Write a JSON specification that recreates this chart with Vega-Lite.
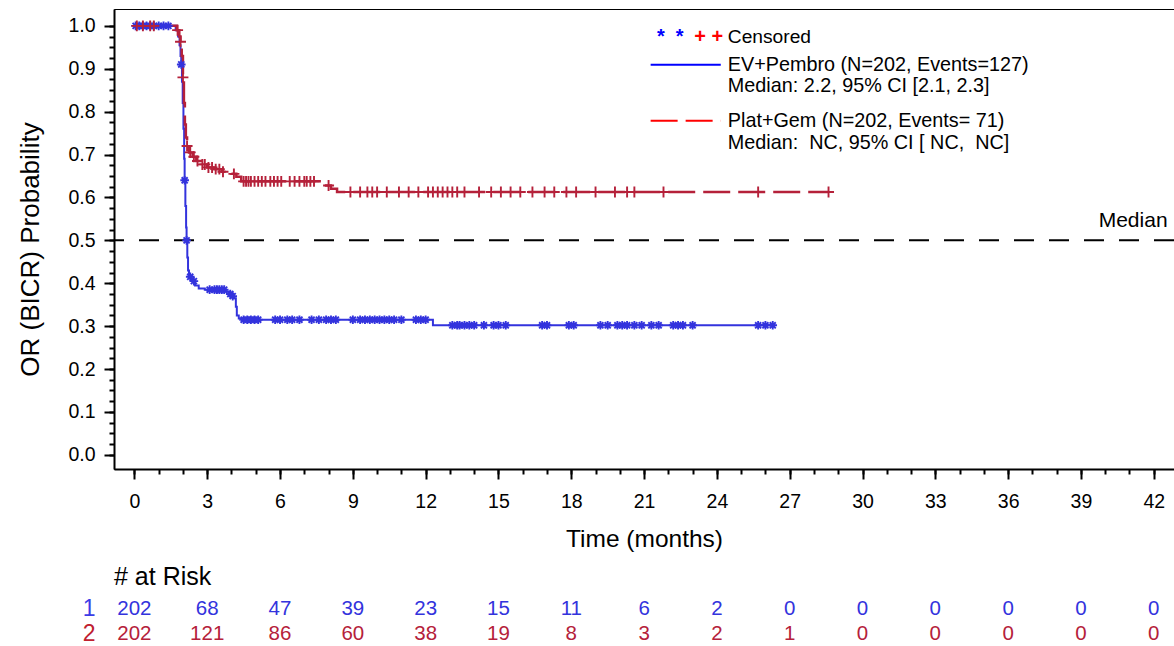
{
  "$schema": "https://vega.github.io/schema/vega-lite/v6.json",
  "padding": {"left": 17, "top": 8, "right": 0, "bottom": 0},
  "bounds": "flush",
  "spacing": 127,
  "config": {
    "font": "Liberation Sans",
    "axis": {"grid": false, "domainColor": "black", "tickColor": "black", "labelColor": "black", "titleColor": "black", "titleFontWeight": "normal", "labelFlush": false, "labelOverlap": false}
  },
  "datasets": {
    "one": [{}],
    "km": [
      {"group": "EV+Pembro", "t": 0, "s": 1}, {"group": "EV+Pembro", "t": 1.7, "s": 0.99}, {"group": "EV+Pembro", "t": 1.8, "s": 0.975}, {"group": "EV+Pembro", "t": 1.86, "s": 0.955}, {"group": "EV+Pembro", "t": 1.9, "s": 0.93}, {"group": "EV+Pembro", "t": 1.93, "s": 0.91}, {"group": "EV+Pembro", "t": 1.96, "s": 0.87}, {"group": "EV+Pembro", "t": 1.99, "s": 0.82}, {"group": "EV+Pembro", "t": 2.02, "s": 0.76}, {"group": "EV+Pembro", "t": 2.05, "s": 0.69}, {"group": "EV+Pembro", "t": 2.07, "s": 0.64}, {"group": "EV+Pembro", "t": 2.1, "s": 0.58}, {"group": "EV+Pembro", "t": 2.13, "s": 0.53}, {"group": "EV+Pembro", "t": 2.15, "s": 0.5}, {"group": "EV+Pembro", "t": 2.18, "s": 0.46}, {"group": "EV+Pembro", "t": 2.21, "s": 0.43}, {"group": "EV+Pembro", "t": 2.25, "s": 0.415}, {"group": "EV+Pembro", "t": 2.35, "s": 0.405}, {"group": "EV+Pembro", "t": 2.5, "s": 0.395}, {"group": "EV+Pembro", "t": 2.65, "s": 0.388}, {"group": "EV+Pembro", "t": 2.9, "s": 0.385}, {"group": "EV+Pembro", "t": 3.75, "s": 0.38}, {"group": "EV+Pembro", "t": 3.9, "s": 0.375}, {"group": "EV+Pembro", "t": 4.0, "s": 0.37}, {"group": "EV+Pembro", "t": 4.1, "s": 0.365}, {"group": "EV+Pembro", "t": 4.18, "s": 0.345}, {"group": "EV+Pembro", "t": 4.22, "s": 0.325}, {"group": "EV+Pembro", "t": 4.3, "s": 0.318}, {"group": "EV+Pembro", "t": 4.45, "s": 0.315}, {"group": "EV+Pembro", "t": 12.3, "s": 0.302}, {"group": "EV+Pembro", "t": 26.3, "s": 0.302},
      {"group": "Plat+Gem", "t": 0, "s": 1}, {"group": "Plat+Gem", "t": 1.75, "s": 0.99}, {"group": "Plat+Gem", "t": 1.85, "s": 0.975}, {"group": "Plat+Gem", "t": 1.9, "s": 0.963}, {"group": "Plat+Gem", "t": 1.95, "s": 0.93}, {"group": "Plat+Gem", "t": 2.0, "s": 0.88}, {"group": "Plat+Gem", "t": 2.04, "s": 0.82}, {"group": "Plat+Gem", "t": 2.08, "s": 0.77}, {"group": "Plat+Gem", "t": 2.12, "s": 0.74}, {"group": "Plat+Gem", "t": 2.17, "s": 0.72}, {"group": "Plat+Gem", "t": 2.25, "s": 0.705}, {"group": "Plat+Gem", "t": 2.4, "s": 0.695}, {"group": "Plat+Gem", "t": 2.55, "s": 0.685}, {"group": "Plat+Gem", "t": 2.75, "s": 0.677}, {"group": "Plat+Gem", "t": 3.0, "s": 0.67}, {"group": "Plat+Gem", "t": 3.3, "s": 0.666}, {"group": "Plat+Gem", "t": 3.6, "s": 0.66}, {"group": "Plat+Gem", "t": 4.0, "s": 0.655}, {"group": "Plat+Gem", "t": 4.2, "s": 0.648}, {"group": "Plat+Gem", "t": 4.4, "s": 0.6375}, {"group": "Plat+Gem", "t": 7.75, "s": 0.628}, {"group": "Plat+Gem", "t": 8.1, "s": 0.62}, {"group": "Plat+Gem", "t": 8.35, "s": 0.6126}, {"group": "Plat+Gem", "t": 28.6, "s": 0.6126}
    ],
    "cens": [
      {"group": "EV+Pembro", "t": 0.05, "s": 1}, {"group": "EV+Pembro", "t": 0.2, "s": 1}, {"group": "EV+Pembro", "t": 0.35, "s": 1}, {"group": "EV+Pembro", "t": 0.5, "s": 1}, {"group": "EV+Pembro", "t": 0.65, "s": 1}, {"group": "EV+Pembro", "t": 0.8, "s": 1}, {"group": "EV+Pembro", "t": 1.0, "s": 1}, {"group": "EV+Pembro", "t": 1.2, "s": 1}, {"group": "EV+Pembro", "t": 1.4, "s": 1},
      {"group": "EV+Pembro", "t": 1.93, "s": 0.91}, {"group": "EV+Pembro", "t": 2.07, "s": 0.64}, {"group": "EV+Pembro", "t": 2.15, "s": 0.5}, {"group": "EV+Pembro", "t": 2.3, "s": 0.415}, {"group": "EV+Pembro", "t": 2.45, "s": 0.405},
      {"group": "EV+Pembro", "t": 3.1, "s": 0.385}, {"group": "EV+Pembro", "t": 3.3, "s": 0.385}, {"group": "EV+Pembro", "t": 3.4, "s": 0.385}, {"group": "EV+Pembro", "t": 3.5, "s": 0.385}, {"group": "EV+Pembro", "t": 3.6, "s": 0.385}, {"group": "EV+Pembro", "t": 3.7, "s": 0.385}, {"group": "EV+Pembro", "t": 3.95, "s": 0.375}, {"group": "EV+Pembro", "t": 4.05, "s": 0.37},
      {"group": "EV+Pembro", "t": 4.5, "s": 0.315}, {"group": "EV+Pembro", "t": 4.65, "s": 0.315}, {"group": "EV+Pembro", "t": 4.8, "s": 0.315}, {"group": "EV+Pembro", "t": 4.95, "s": 0.315}, {"group": "EV+Pembro", "t": 5.1, "s": 0.315}, {"group": "EV+Pembro", "t": 5.8, "s": 0.315}, {"group": "EV+Pembro", "t": 6.0, "s": 0.315}, {"group": "EV+Pembro", "t": 6.3, "s": 0.315}, {"group": "EV+Pembro", "t": 6.5, "s": 0.315}, {"group": "EV+Pembro", "t": 6.8, "s": 0.315}, {"group": "EV+Pembro", "t": 7.3, "s": 0.315}, {"group": "EV+Pembro", "t": 7.6, "s": 0.315}, {"group": "EV+Pembro", "t": 7.9, "s": 0.315}, {"group": "EV+Pembro", "t": 8.1, "s": 0.315}, {"group": "EV+Pembro", "t": 8.3, "s": 0.315}, {"group": "EV+Pembro", "t": 9.0, "s": 0.315}, {"group": "EV+Pembro", "t": 9.3, "s": 0.315}, {"group": "EV+Pembro", "t": 9.5, "s": 0.315}, {"group": "EV+Pembro", "t": 9.7, "s": 0.315}, {"group": "EV+Pembro", "t": 9.9, "s": 0.315}, {"group": "EV+Pembro", "t": 10.1, "s": 0.315}, {"group": "EV+Pembro", "t": 10.3, "s": 0.315}, {"group": "EV+Pembro", "t": 10.5, "s": 0.315}, {"group": "EV+Pembro", "t": 10.7, "s": 0.315}, {"group": "EV+Pembro", "t": 11.0, "s": 0.315}, {"group": "EV+Pembro", "t": 11.6, "s": 0.315}, {"group": "EV+Pembro", "t": 11.8, "s": 0.315}, {"group": "EV+Pembro", "t": 12.0, "s": 0.315},
      {"group": "EV+Pembro", "t": 13.1, "s": 0.302}, {"group": "EV+Pembro", "t": 13.3, "s": 0.302}, {"group": "EV+Pembro", "t": 13.4, "s": 0.302}, {"group": "EV+Pembro", "t": 13.6, "s": 0.302}, {"group": "EV+Pembro", "t": 13.8, "s": 0.302}, {"group": "EV+Pembro", "t": 14.0, "s": 0.302}, {"group": "EV+Pembro", "t": 14.4, "s": 0.302}, {"group": "EV+Pembro", "t": 14.8, "s": 0.302}, {"group": "EV+Pembro", "t": 15.0, "s": 0.302}, {"group": "EV+Pembro", "t": 15.3, "s": 0.302}, {"group": "EV+Pembro", "t": 16.8, "s": 0.302}, {"group": "EV+Pembro", "t": 17.0, "s": 0.302}, {"group": "EV+Pembro", "t": 17.9, "s": 0.302}, {"group": "EV+Pembro", "t": 18.1, "s": 0.302}, {"group": "EV+Pembro", "t": 19.2, "s": 0.302}, {"group": "EV+Pembro", "t": 19.5, "s": 0.302}, {"group": "EV+Pembro", "t": 19.9, "s": 0.302}, {"group": "EV+Pembro", "t": 20.1, "s": 0.302}, {"group": "EV+Pembro", "t": 20.3, "s": 0.302}, {"group": "EV+Pembro", "t": 20.6, "s": 0.302}, {"group": "EV+Pembro", "t": 20.9, "s": 0.302}, {"group": "EV+Pembro", "t": 21.3, "s": 0.302}, {"group": "EV+Pembro", "t": 21.6, "s": 0.302}, {"group": "EV+Pembro", "t": 22.2, "s": 0.302}, {"group": "EV+Pembro", "t": 22.4, "s": 0.302}, {"group": "EV+Pembro", "t": 22.6, "s": 0.302}, {"group": "EV+Pembro", "t": 23.0, "s": 0.302}, {"group": "EV+Pembro", "t": 25.7, "s": 0.302}, {"group": "EV+Pembro", "t": 26.0, "s": 0.302}, {"group": "EV+Pembro", "t": 26.3, "s": 0.302},
      {"group": "Plat+Gem", "t": 0.1, "s": 1}, {"group": "Plat+Gem", "t": 0.35, "s": 1}, {"group": "Plat+Gem", "t": 0.65, "s": 1}, {"group": "Plat+Gem", "t": 0.8, "s": 1}, {"group": "Plat+Gem", "t": 1.78, "s": 0.99},
      {"group": "Plat+Gem", "t": 1.9, "s": 0.963}, {"group": "Plat+Gem", "t": 2.0, "s": 0.88}, {"group": "Plat+Gem", "t": 2.17, "s": 0.72}, {"group": "Plat+Gem", "t": 2.3, "s": 0.705}, {"group": "Plat+Gem", "t": 2.45, "s": 0.695}, {"group": "Plat+Gem", "t": 2.6, "s": 0.685}, {"group": "Plat+Gem", "t": 2.8, "s": 0.677}, {"group": "Plat+Gem", "t": 2.9, "s": 0.677}, {"group": "Plat+Gem", "t": 3.05, "s": 0.67}, {"group": "Plat+Gem", "t": 3.2, "s": 0.67}, {"group": "Plat+Gem", "t": 3.35, "s": 0.666}, {"group": "Plat+Gem", "t": 3.5, "s": 0.666}, {"group": "Plat+Gem", "t": 3.65, "s": 0.66}, {"group": "Plat+Gem", "t": 4.1, "s": 0.655},
      {"group": "Plat+Gem", "t": 4.5, "s": 0.6375}, {"group": "Plat+Gem", "t": 4.6, "s": 0.6375}, {"group": "Plat+Gem", "t": 4.7, "s": 0.6375}, {"group": "Plat+Gem", "t": 4.8, "s": 0.6375}, {"group": "Plat+Gem", "t": 4.95, "s": 0.6375}, {"group": "Plat+Gem", "t": 5.1, "s": 0.6375}, {"group": "Plat+Gem", "t": 5.25, "s": 0.6375}, {"group": "Plat+Gem", "t": 5.4, "s": 0.6375}, {"group": "Plat+Gem", "t": 5.6, "s": 0.6375}, {"group": "Plat+Gem", "t": 5.75, "s": 0.6375}, {"group": "Plat+Gem", "t": 5.9, "s": 0.6375}, {"group": "Plat+Gem", "t": 6.05, "s": 0.6375}, {"group": "Plat+Gem", "t": 6.4, "s": 0.6375}, {"group": "Plat+Gem", "t": 6.6, "s": 0.6375}, {"group": "Plat+Gem", "t": 6.8, "s": 0.6375}, {"group": "Plat+Gem", "t": 7.0, "s": 0.6375}, {"group": "Plat+Gem", "t": 7.1, "s": 0.6375}, {"group": "Plat+Gem", "t": 7.25, "s": 0.6375}, {"group": "Plat+Gem", "t": 7.4, "s": 0.6375}, {"group": "Plat+Gem", "t": 8.0, "s": 0.628},
      {"group": "Plat+Gem", "t": 8.9, "s": 0.6126}, {"group": "Plat+Gem", "t": 9.3, "s": 0.6126}, {"group": "Plat+Gem", "t": 9.6, "s": 0.6126}, {"group": "Plat+Gem", "t": 9.8, "s": 0.6126}, {"group": "Plat+Gem", "t": 10.0, "s": 0.6126}, {"group": "Plat+Gem", "t": 10.4, "s": 0.6126}, {"group": "Plat+Gem", "t": 10.9, "s": 0.6126}, {"group": "Plat+Gem", "t": 11.3, "s": 0.6126}, {"group": "Plat+Gem", "t": 11.7, "s": 0.6126}, {"group": "Plat+Gem", "t": 12.1, "s": 0.6126}, {"group": "Plat+Gem", "t": 12.3, "s": 0.6126}, {"group": "Plat+Gem", "t": 12.5, "s": 0.6126}, {"group": "Plat+Gem", "t": 12.7, "s": 0.6126}, {"group": "Plat+Gem", "t": 12.9, "s": 0.6126}, {"group": "Plat+Gem", "t": 13.1, "s": 0.6126}, {"group": "Plat+Gem", "t": 13.3, "s": 0.6126}, {"group": "Plat+Gem", "t": 13.6, "s": 0.6126}, {"group": "Plat+Gem", "t": 14.2, "s": 0.6126}, {"group": "Plat+Gem", "t": 14.7, "s": 0.6126}, {"group": "Plat+Gem", "t": 15.1, "s": 0.6126}, {"group": "Plat+Gem", "t": 15.5, "s": 0.6126}, {"group": "Plat+Gem", "t": 15.9, "s": 0.6126}, {"group": "Plat+Gem", "t": 16.4, "s": 0.6126}, {"group": "Plat+Gem", "t": 16.9, "s": 0.6126}, {"group": "Plat+Gem", "t": 17.3, "s": 0.6126}, {"group": "Plat+Gem", "t": 17.8, "s": 0.6126}, {"group": "Plat+Gem", "t": 18.2, "s": 0.6126}, {"group": "Plat+Gem", "t": 19.0, "s": 0.6126}, {"group": "Plat+Gem", "t": 19.8, "s": 0.6126}, {"group": "Plat+Gem", "t": 20.3, "s": 0.6126}, {"group": "Plat+Gem", "t": 20.6, "s": 0.6126}, {"group": "Plat+Gem", "t": 21.8, "s": 0.6126}, {"group": "Plat+Gem", "t": 25.7, "s": 0.6126}, {"group": "Plat+Gem", "t": 28.6, "s": 0.6126}
    ],
    "risk": [
      {"arm": "1", "t": 0, "n": 202}, {"arm": "1", "t": 3, "n": 68}, {"arm": "1", "t": 6, "n": 47}, {"arm": "1", "t": 9, "n": 39}, {"arm": "1", "t": 12, "n": 23}, {"arm": "1", "t": 15, "n": 15}, {"arm": "1", "t": 18, "n": 11}, {"arm": "1", "t": 21, "n": 6}, {"arm": "1", "t": 24, "n": 2}, {"arm": "1", "t": 27, "n": 0}, {"arm": "1", "t": 30, "n": 0}, {"arm": "1", "t": 33, "n": 0}, {"arm": "1", "t": 36, "n": 0}, {"arm": "1", "t": 39, "n": 0}, {"arm": "1", "t": 42, "n": 0},
      {"arm": "2", "t": 0, "n": 202}, {"arm": "2", "t": 3, "n": 121}, {"arm": "2", "t": 6, "n": 86}, {"arm": "2", "t": 9, "n": 60}, {"arm": "2", "t": 12, "n": 38}, {"arm": "2", "t": 15, "n": 19}, {"arm": "2", "t": 18, "n": 8}, {"arm": "2", "t": 21, "n": 3}, {"arm": "2", "t": 24, "n": 2}, {"arm": "2", "t": 27, "n": 1}, {"arm": "2", "t": 30, "n": 0}, {"arm": "2", "t": 33, "n": 0}, {"arm": "2", "t": 36, "n": 0}, {"arm": "2", "t": 39, "n": 0}, {"arm": "2", "t": 42, "n": 0}
    ]
  },
  "vconcat": [
    {
      "width": 1060,
      "height": 460,
      "view": {"stroke": "black", "strokeWidth": 1},
      "resolve": {"axis": {"x": "independent", "y": "independent"}},
      "layer": [
        {
          "data": {"name": "one"},
          "mark": {"type": "rule", "strokeDash": [20, 15], "strokeWidth": 2, "color": "black"},
          "encoding": {"y": {"datum": 0.5, "type": "quantitative", "axis": null}}
        },
        {
          "data": {"name": "km"},
          "mark": {"type": "line", "interpolate": "step-after"},
          "encoding": {
            "x": {"field": "t", "type": "quantitative", "scale": {"domain": [-0.8406, 42.834], "nice": false, "zero": false},
              "axis": {"orient": "bottom", "values": [0, 3, 6, 9, 12, 15, 18, 21, 24, 27, 30, 33, 36, 39, 42], "title": "Time (months)", "tickSize": 10, "tickWidth": 2, "domainWidth": 2, "labelFontSize": 19.5, "labelPadding": 13, "titleFontSize": 24.5, "titlePadding": 17}},
            "y": {"field": "s", "type": "quantitative", "scale": {"domain": [-0.033, 1.0393], "nice": false, "zero": false},
              "axis": {"orient": "left", "values": [0, 0.1, 0.2, 0.3, 0.4, 0.5, 0.6, 0.7, 0.8, 0.9, 1.0], "format": ".1f", "title": "OR (BICR) Probability", "tickSize": 10, "tickWidth": 2, "domainWidth": 2, "labelFontSize": 19.5, "labelPadding": 9, "titleFontSize": 26, "titlePadding": 24, "titleY": 240}},
            "color": {"field": "group", "type": "nominal", "scale": {"domain": ["EV+Pembro", "Plat+Gem"], "range": ["#3333DD", "#B5213A"]}, "legend": null},
            "strokeDash": {"field": "group", "type": "nominal", "scale": {"domain": ["EV+Pembro", "Plat+Gem"], "range": [[1, 0], [27, 8]]}, "legend": null},
            "strokeWidth": {"field": "group", "type": "nominal", "scale": {"domain": ["EV+Pembro", "Plat+Gem"], "range": [2, 2.5]}, "legend": null}
          }
        },
        {
          "data": {"name": "cens"},
          "mark": {"type": "point", "filled": false, "strokeWidth": 1.9, "opacity": 1},
          "encoding": {
            "x": {"field": "t", "type": "quantitative",
              "axis": {"orient": "bottom", "values": [0, 1, 2, 3, 4, 5, 6, 7, 8, 9, 10, 11, 12, 13, 14, 15, 16, 17, 18, 19, 20, 21, 22, 23, 24, 25, 26, 27, 28, 29, 30, 31, 32, 33, 34, 35, 36, 37, 38, 39, 40, 41, 42], "tickSize": 5, "tickWidth": 2, "labels": false, "domain": false, "title": null}},
            "y": {"field": "s", "type": "quantitative",
              "axis": {"orient": "left", "values": [0, 0.025, 0.05, 0.075, 0.1, 0.125, 0.15, 0.175, 0.2, 0.225, 0.25, 0.275, 0.3, 0.325, 0.35, 0.375, 0.4, 0.425, 0.45, 0.475, 0.5, 0.525, 0.55, 0.575, 0.6, 0.625, 0.65, 0.675, 0.7, 0.725, 0.75, 0.775, 0.8, 0.825, 0.85, 0.875, 0.9, 0.925, 0.95, 0.975, 1.0], "tickSize": 5, "tickWidth": 2, "labels": false, "domain": false, "title": null}},
            "color": {"field": "group", "type": "nominal", "legend": null},
            "size": {"field": "group", "type": "nominal", "scale": {"domain": ["EV+Pembro", "Plat+Gem"], "range": [75, 120]}, "legend": null},
            "shape": {"field": "group", "type": "nominal", "scale": {"domain": ["EV+Pembro", "Plat+Gem"], "range": ["M-1,0H1M0,-1V1M-0.7,-0.7L0.7,0.7M-0.7,0.7L0.7,-0.7", "M-1,0H1M0,-1V1"]}, "legend": null}
          }
        },
        {
          "data": {"name": "one"},
          "mark": {"type": "text", "text": "Median", "align": "right", "baseline": "middle", "fontSize": 21, "color": "black"},
          "encoding": {"x": {"datum": 42.57, "type": "quantitative", "axis": null}, "y": {"datum": 0.545, "type": "quantitative", "axis": null}}
        },
        {
          "data": {"name": "one"},
          "mark": {"type": "text", "text": "*\u00a0\u00a0*", "align": "center", "baseline": "middle", "fontSize": 20, "fontWeight": "bold", "color": "#0000FF"},
          "encoding": {"x": {"datum": 22.08, "type": "quantitative", "axis": null}, "y": {"datum": 0.9732, "type": "quantitative", "axis": null}}
        },
        {
          "data": {"name": "one"},
          "mark": {"type": "text", "text": "+ +", "align": "center", "baseline": "middle", "fontSize": 20, "fontWeight": "bold", "color": "#FF0000"},
          "encoding": {"x": {"datum": 23.66, "type": "quantitative", "axis": null}, "y": {"datum": 0.9732, "type": "quantitative", "axis": null}}
        },
        {
          "data": {"name": "one"},
          "mark": {"type": "text", "text": "Censored", "align": "left", "baseline": "middle", "fontSize": 19.2, "color": "black"},
          "encoding": {"x": {"datum": 24.45, "type": "quantitative", "axis": null}, "y": {"datum": 0.9732, "type": "quantitative", "axis": null}}
        },
        {
          "data": {"name": "one"},
          "mark": {"type": "rule", "color": "#0000FF", "strokeWidth": 2},
          "encoding": {"x": {"datum": 21.27, "type": "quantitative", "axis": null}, "x2": {"datum": 24.16}, "y": {"datum": 0.9092, "type": "quantitative", "axis": null}}
        },
        {
          "data": {"name": "one"},
          "mark": {"type": "text", "text": "EV+Pembro (N=202, Events=127)", "align": "left", "baseline": "middle", "fontSize": 19.8, "color": "black"},
          "encoding": {"x": {"datum": 24.45, "type": "quantitative", "axis": null}, "y": {"datum": 0.9092, "type": "quantitative", "axis": null}}
        },
        {
          "data": {"name": "one"},
          "mark": {"type": "text", "text": "Median: 2.2, 95% CI [2.1, 2.3]", "align": "left", "baseline": "middle", "fontSize": 19.8, "color": "black"},
          "encoding": {"x": {"datum": 24.45, "type": "quantitative", "axis": null}, "y": {"datum": 0.8591, "type": "quantitative", "axis": null}}
        },
        {
          "data": {"name": "one"},
          "mark": {"type": "rule", "color": "#FF0000", "strokeWidth": 2, "strokeDash": [27, 8]},
          "encoding": {"x": {"datum": 21.27, "type": "quantitative", "axis": null}, "x2": {"datum": 24.16}, "y": {"datum": 0.7788, "type": "quantitative", "axis": null}}
        },
        {
          "data": {"name": "one"},
          "mark": {"type": "text", "text": "Plat+Gem (N=202, Events= 71)", "align": "left", "baseline": "middle", "fontSize": 19.8, "color": "black"},
          "encoding": {"x": {"datum": 24.45, "type": "quantitative", "axis": null}, "y": {"datum": 0.7788, "type": "quantitative", "axis": null}}
        },
        {
          "data": {"name": "one"},
          "mark": {"type": "text", "text": "Median: \u00a0NC, 95% CI [ NC, \u00a0NC]", "align": "left", "baseline": "middle", "fontSize": 19.8, "color": "black"},
          "encoding": {"x": {"datum": 24.45, "type": "quantitative", "axis": null}, "y": {"datum": 0.7276, "type": "quantitative", "axis": null}}
        }
      ]
    },
    {
      "width": 1060,
      "height": 50,
      "view": {"stroke": null},
      "title": {"text": "# at Risk", "anchor": "start", "frame": "group", "fontSize": 25, "fontWeight": "normal", "offset": 6, "color": "black"},
      "data": {"name": "risk"},
      "mark": {"type": "text", "fontSize": 20.5, "baseline": "middle", "align": "center"},
      "encoding": {
        "x": {"field": "t", "type": "quantitative", "scale": {"domain": [-0.8406, 42.834], "nice": false, "zero": false}, "axis": null},
        "y": {"field": "arm", "type": "nominal", "scale": {"type": "point", "domain": ["1", "2"], "padding": 0.5},
          "axis": {"title": null, "domain": false, "ticks": false, "tickSize": 0, "labelFontSize": 23, "labelPadding": 19, "labelColor": {"condition": {"test": "datum.value === '1'", "value": "#3C3CE6"}, "value": "#C0202F"}}},
        "text": {"field": "n", "type": "quantitative"},
        "color": {"field": "arm", "type": "nominal", "scale": {"domain": ["1", "2"], "range": ["#3C3CE6", "#C0202F"]}, "legend": null}
      }
    }
  ]
}
